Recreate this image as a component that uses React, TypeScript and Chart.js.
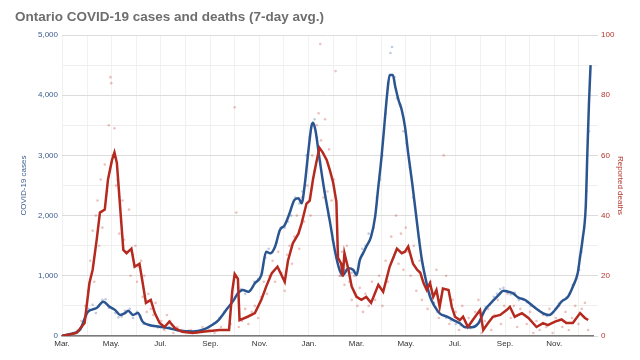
import { useEffect, useRef } from 'react';
import { Chart, registerables } from 'chart.js';

Chart.register(...registerables);

const TITLE = 'Ontario COVID-19 cases and deaths (7-day avg.)';
const LEFT_TITLE = 'COVID-19 cases';
const RIGHT_TITLE = 'Reported deaths';

const tickDates = [
  '2020-03-01', '2020-04-01', '2020-05-01', '2020-06-01', '2020-07-01', '2020-08-01',
  '2020-09-01', '2020-10-01', '2020-11-01', '2020-12-01', '2021-01-01', '2021-02-01',
  '2021-03-01', '2021-04-01', '2021-05-01', '2021-06-01', '2021-07-01', '2021-08-01',
  '2021-09-01', '2021-10-01', '2021-11-01', '2021-12-01',
];
const tickLabels = [
  'Mar.', '', 'May.', '', 'Jul.', '', 'Sep.', '', 'Nov.', '', 'Jan.', '',
  'Mar.', '', 'May.', '', 'Jul.', '', 'Sep.', '', 'Nov.', '',
];

// 7-day average of cases
const casesAvg: [string, number][] = [
  ['2020-03-01', 5], ['2020-03-10', 30], ['2020-03-23', 100], ['2020-04-02', 400], ['2020-04-13', 465],
  ['2020-04-21', 570], ['2020-04-29', 487], ['2020-05-06', 430], ['2020-05-12', 350], ['2020-05-18', 380],
  ['2020-05-22', 420], ['2020-05-28', 350], ['2020-06-03', 380], ['2020-06-09', 237], ['2020-06-17', 183],
  ['2020-06-30', 155], ['2020-07-12', 128], ['2020-07-25', 88], ['2020-08-10', 75], ['2020-08-22', 100],
  ['2020-09-05', 200], ['2020-09-11', 265], ['2020-09-22', 460], ['2020-09-30', 600], ['2020-10-05', 710],
  ['2020-10-11', 765], ['2020-10-18', 735], ['2020-10-26', 875], ['2020-11-03', 1013], ['2020-11-09', 1400],
  ['2020-11-14', 1373], ['2020-11-20', 1483], ['2020-11-26', 1760], ['2020-12-02', 1843], ['2020-12-08', 2038],
  ['2020-12-14', 2260], ['2020-12-19', 2287], ['2020-12-23', 2204], ['2020-12-27', 2536], ['2020-12-31', 3035],
  ['2021-01-04', 3477], ['2021-01-06', 3543], ['2021-01-09', 3422], ['2021-01-14', 2952], ['2021-01-20', 2425],
  ['2021-01-27', 1900], ['2021-02-02', 1428], ['2021-02-08', 1096], ['2021-02-12', 1013], ['2021-02-19', 1124],
  ['2021-02-25', 1096], ['2021-03-01', 1013], ['2021-03-05', 1262], ['2021-03-09', 1373], ['2021-03-13', 1483],
  ['2021-03-19', 1650], ['2021-03-24', 1980], ['2021-03-28', 2480], ['2021-04-01', 2978], ['2021-04-05', 3588],
  ['2021-04-08', 4031], ['2021-04-11', 4335], ['2021-04-15', 4335], ['2021-04-18', 4140], ['2021-04-22', 3920],
  ['2021-04-26', 3754], ['2021-04-30', 3477], ['2021-05-04', 3035], ['2021-05-09', 2536], ['2021-05-13', 2093],
  ['2021-05-17', 1650], ['2021-05-21', 1262], ['2021-05-25', 985], ['2021-05-31', 653], ['2021-06-06', 487],
  ['2021-06-12', 377], ['2021-06-21', 320], ['2021-06-29', 265], ['2021-07-07', 211], ['2021-07-14', 144],
  ['2021-07-22', 144], ['2021-07-30', 211], ['2021-08-07', 432], ['2021-08-16', 570], ['2021-08-24', 680],
  ['2021-08-30', 752], ['2021-09-05', 735], ['2021-09-11', 709], ['2021-09-17', 642], ['2021-09-26', 598],
  ['2021-10-04', 515], ['2021-10-12', 432], ['2021-10-20', 365], ['2021-10-26', 349], ['2021-11-02', 432],
  ['2021-11-10', 570], ['2021-11-18', 653], ['2021-11-24', 819], ['2021-11-30', 1041], ['2021-12-03', 1317],
  ['2021-12-06', 1595], ['2021-12-10', 2148], ['2021-12-12', 3035], ['2021-12-14', 3865], ['2021-12-16', 4500],
];

// 7-day average of reported deaths
const deathsAvg: [string, number][] = [
  ['2020-03-01', 0], ['2020-03-19', 1], ['2020-03-29', 4.3], ['2020-04-04', 17.6], ['2020-04-08', 22],
  ['2020-04-13', 32], ['2020-04-17', 41], ['2020-04-23', 42], ['2020-04-27', 52], ['2020-05-02', 58.5],
  ['2020-05-05', 61], ['2020-05-08', 57.5], ['2020-05-12', 43], ['2020-05-16', 28.6], ['2020-05-20', 27.5],
  ['2020-05-26', 29], ['2020-05-30', 23], ['2020-06-05', 24], ['2020-06-09', 17.6], ['2020-06-13', 11],
  ['2020-06-19', 12], ['2020-06-24', 7.6], ['2020-06-30', 4.3], ['2020-07-06', 3], ['2020-07-12', 4.8],
  ['2020-07-19', 2.6], ['2020-07-28', 1.4], ['2020-08-10', 1], ['2020-08-25', 1.5], ['2020-09-12', 2],
  ['2020-09-24', 2], ['2020-09-28', 15], ['2020-10-01', 20.6], ['2020-10-05', 19], ['2020-10-07', 5.3],
  ['2020-10-17', 6.4], ['2020-10-26', 7.6], ['2020-11-03', 12], ['2020-11-09', 16.4], ['2020-11-16', 20.9],
  ['2020-11-23', 23], ['2020-12-02', 18], ['2020-12-06', 25], ['2020-12-12', 30.8], ['2020-12-19', 34],
  ['2020-12-23', 37.5], ['2020-12-29', 44], ['2021-01-02', 45], ['2021-01-06', 52], ['2021-01-10', 57.5],
  ['2021-01-14', 62.5], ['2021-01-18', 61], ['2021-01-23', 58.5], ['2021-01-27', 55], ['2021-01-31', 51],
  ['2021-02-04', 44.6], ['2021-02-06', 26], ['2021-02-10', 24], ['2021-02-12', 19.7], ['2021-02-14', 27.5],
  ['2021-02-19', 22], ['2021-02-23', 16.4], ['2021-03-01', 13], ['2021-03-07', 12], ['2021-03-13', 13],
  ['2021-03-19', 11], ['2021-03-28', 17], ['2021-04-03', 14.7], ['2021-04-11', 23], ['2021-04-20', 29],
  ['2021-04-26', 27.5], ['2021-04-30', 28], ['2021-05-04', 29.7], ['2021-05-10', 24], ['2021-05-15', 22],
  ['2021-05-19', 21], ['2021-05-23', 17.6], ['2021-05-27', 15.3], ['2021-05-31', 17.6], ['2021-06-04', 13],
  ['2021-06-08', 15.3], ['2021-06-12', 9.7], ['2021-06-16', 15.8], ['2021-06-23', 15.3], ['2021-06-27', 9.7],
  ['2021-07-01', 6.4], ['2021-07-07', 5.3], ['2021-07-11', 6.4], ['2021-07-17', 3], ['2021-07-23', 5.3],
  ['2021-08-01', 8.6], ['2021-08-05', 2], ['2021-08-11', 4.3], ['2021-08-17', 6.4], ['2021-08-26', 7],
  ['2021-09-03', 8.6], ['2021-09-07', 9.7], ['2021-09-13', 6.4], ['2021-09-22', 7.6], ['2021-09-30', 6],
  ['2021-10-10', 3], ['2021-10-18', 4.3], ['2021-10-24', 3.6], ['2021-11-02', 4.8], ['2021-11-10', 5.5],
  ['2021-11-16', 4.3], ['2021-11-24', 4.3], ['2021-12-03', 7.6], ['2021-12-09', 6], ['2021-12-13', 5.3],
];

// daily reported cases (dots)
const casesDaily: [string, number][] = [
  ['2020-03-20', 90], ['2020-03-28', 250], ['2020-04-03', 450], ['2020-04-08', 520], ['2020-04-12', 380],
  ['2020-04-16', 500], ['2020-04-20', 600], ['2020-04-24', 610], ['2020-04-28', 470], ['2020-05-02', 460],
  ['2020-05-06', 380], ['2020-05-10', 310], ['2020-05-14', 320], ['2020-05-18', 420], ['2020-05-24', 450],
  ['2020-05-28', 300], ['2020-06-02', 400], ['2020-06-06', 330], ['2020-06-10', 200], ['2020-06-16', 190],
  ['2020-06-22', 170], ['2020-06-28', 140], ['2020-07-05', 120], ['2020-07-12', 150], ['2020-07-20', 110],
  ['2020-07-28', 80], ['2020-08-05', 90], ['2020-08-14', 70], ['2020-08-22', 110], ['2020-08-30', 150],
  ['2020-09-05', 210], ['2020-09-12', 300], ['2020-09-18', 400], ['2020-09-25', 500], ['2020-10-01', 640],
  ['2020-10-05', 800], ['2020-10-09', 780], ['2020-10-14', 700], ['2020-10-20', 760], ['2020-10-25', 900],
  ['2020-10-30', 950], ['2020-11-04', 1050], ['2020-11-08', 1300], ['2020-11-12', 1450], ['2020-11-17', 1400],
  ['2020-11-22', 1550], ['2020-11-27', 1800], ['2020-12-02', 1800], ['2020-12-06', 1900], ['2020-12-10', 2000],
  ['2020-12-15', 2300], ['2020-12-20', 2200], ['2020-12-24', 2400], ['2020-12-29', 3000], ['2021-01-02', 3300],
  ['2021-01-05', 3500], ['2021-01-08', 3600], ['2021-01-11', 3300], ['2021-01-15', 2900], ['2021-01-20', 2400],
  ['2021-01-25', 2000], ['2021-01-30', 1600], ['2021-02-04', 1300], ['2021-02-09', 1000], ['2021-02-14', 1100],
  ['2021-02-18', 1150], ['2021-02-23', 1050], ['2021-02-28', 1000], ['2021-03-04', 1200], ['2021-03-08', 1450],
  ['2021-03-12', 1500], ['2021-03-16', 1700], ['2021-03-22', 1800], ['2021-03-26', 2300], ['2021-03-30', 2600],
  ['2021-04-02', 3000], ['2021-04-06', 3700], ['2021-04-09', 4200], ['2021-04-12', 4700], ['2021-04-14', 4800],
  ['2021-04-17', 4300], ['2021-04-20', 3950], ['2021-04-24', 3850], ['2021-04-28', 3400], ['2021-05-02', 3200],
  ['2021-05-06', 2800], ['2021-05-10', 2300], ['2021-05-14', 2000], ['2021-05-18', 1600], ['2021-05-22', 1200],
  ['2021-05-26', 900], ['2021-06-01', 700], ['2021-06-05', 550], ['2021-06-09', 400], ['2021-06-15', 350],
  ['2021-06-20', 300], ['2021-06-26', 260], ['2021-07-02', 200], ['2021-07-08', 180], ['2021-07-14', 150],
  ['2021-07-20', 130], ['2021-07-26', 170], ['2021-08-02', 250], ['2021-08-08', 480], ['2021-08-13', 520],
  ['2021-08-18', 650], ['2021-08-22', 700], ['2021-08-26', 780], ['2021-08-30', 800], ['2021-09-03', 750],
  ['2021-09-08', 690], ['2021-09-13', 720], ['2021-09-18', 600], ['2021-09-23', 620], ['2021-09-28', 560],
  ['2021-10-03', 500], ['2021-10-08', 470], ['2021-10-13', 420], ['2021-10-18', 380], ['2021-10-23', 330],
  ['2021-10-28', 370], ['2021-11-02', 450], ['2021-11-07', 540], ['2021-11-12', 600], ['2021-11-16', 640],
  ['2021-11-20', 700], ['2021-11-24', 850], ['2021-11-28', 950], ['2021-12-02', 1100], ['2021-12-05', 1400],
  ['2021-12-08', 1800], ['2021-12-11', 2400], ['2021-12-14', 3400],
];

// daily reported deaths (dots)
const deathsDaily: [string, number][] = [
  ['2020-03-25', 5], ['2020-03-30', 10], ['2020-04-02', 15], ['2020-04-05', 25], ['2020-04-08', 35],
  ['2020-04-10', 18], ['2020-04-12', 40], ['2020-04-14', 45], ['2020-04-16', 30], ['2020-04-18', 52],
  ['2020-04-20', 36], ['2020-04-23', 57], ['2020-04-26', 48], ['2020-04-28', 70], ['2020-04-30', 86],
  ['2020-05-01', 84], ['2020-05-03', 60], ['2020-05-05', 69], ['2020-05-07', 50], ['2020-05-09', 52],
  ['2020-05-11', 34], ['2020-05-13', 38], ['2020-05-15', 45], ['2020-05-17', 32], ['2020-05-20', 28],
  ['2020-05-23', 42], ['2020-05-25', 20], ['2020-05-28', 27], ['2020-05-31', 30], ['2020-06-02', 18],
  ['2020-06-04', 23], ['2020-06-07', 25], ['2020-06-09', 13], ['2020-06-11', 20], ['2020-06-14', 8],
  ['2020-06-16', 14], ['2020-06-19', 9], ['2020-06-22', 7], ['2020-06-25', 11], ['2020-06-28', 3],
  ['2020-07-02', 5], ['2020-07-06', 2], ['2020-07-09', 7], ['2020-07-13', 5], ['2020-07-17', 1],
  ['2020-07-22', 3], ['2020-07-27', 2], ['2020-08-02', 0], ['2020-08-08', 2], ['2020-08-15', 1],
  ['2020-08-22', 3], ['2020-08-30', 2], ['2020-09-06', 1], ['2020-09-14', 3], ['2020-09-20', 0],
  ['2020-09-26', 4], ['2020-10-01', 76], ['2020-10-03', 41], ['2020-10-06', 3], ['2020-10-10', 5],
  ['2020-10-14', 9], ['2020-10-18', 4], ['2020-10-22', 8], ['2020-10-26', 10], ['2020-10-30', 6],
  ['2020-11-03', 13], ['2020-11-06', 18], ['2020-11-10', 14], ['2020-11-13', 20], ['2020-11-17', 25],
  ['2020-11-20', 18], ['2020-11-24', 28], ['2020-11-28', 21], ['2020-12-02', 15], ['2020-12-05', 27],
  ['2020-12-08', 30], ['2020-12-11', 24], ['2020-12-14', 33], ['2020-12-17', 40], ['2020-12-20', 29],
  ['2020-12-23', 46], ['2020-12-26', 38], ['2020-12-30', 50], ['2021-01-03', 40], ['2021-01-05', 60],
  ['2021-01-08', 55], ['2021-01-11', 70], ['2021-01-13', 74], ['2021-01-15', 97], ['2021-01-16', 65],
  ['2021-01-19', 46], ['2021-01-21', 72], ['2021-01-24', 48], ['2021-01-26', 62], ['2021-01-29', 45],
  ['2021-02-01', 52], ['2021-02-03', 88], ['2021-02-05', 30], ['2021-02-08', 20], ['2021-02-11', 28],
  ['2021-02-14', 17], ['2021-02-17', 30], ['2021-02-20', 18], ['2021-02-23', 12], ['2021-02-26', 20],
  ['2021-03-02', 10], ['2021-03-05', 16], ['2021-03-09', 8], ['2021-03-12', 14], ['2021-03-16', 10],
  ['2021-03-20', 18], ['2021-03-24', 12], ['2021-03-29', 20], ['2021-04-02', 10], ['2021-04-06', 25],
  ['2021-04-09', 18], ['2021-04-13', 33], ['2021-04-16', 26], ['2021-04-19', 40], ['2021-04-22', 24],
  ['2021-04-25', 34], ['2021-04-28', 22], ['2021-05-01', 36], ['2021-05-04', 28], ['2021-05-07', 20],
  ['2021-05-11', 30], ['2021-05-14', 15], ['2021-05-18', 25], ['2021-05-21', 12], ['2021-05-25', 20],
  ['2021-05-28', 9], ['2021-06-01', 18], ['2021-06-04', 11], ['2021-06-08', 22], ['2021-06-11', 6],
  ['2021-06-14', 13], ['2021-06-17', 60], ['2021-06-20', 20], ['2021-06-24', 4], ['2021-06-28', 12],
  ['2021-07-02', 8], ['2021-07-06', 2], ['2021-07-10', 10], ['2021-07-14', 3], ['2021-07-18', 6],
  ['2021-07-22', 0], ['2021-07-26', 8], ['2021-07-30', 12], ['2021-08-03', 1], ['2021-08-07', 5],
  ['2021-08-11', 9], ['2021-08-15', 2], ['2021-08-19', 7], ['2021-08-23', 12], ['2021-08-27', 4],
  ['2021-08-31', 10], ['2021-09-04', 14], ['2021-09-08', 6], ['2021-09-12', 10], ['2021-09-16', 3],
  ['2021-09-20', 9], ['2021-09-24', 12], ['2021-09-28', 4], ['2021-10-02', 8], ['2021-10-06', 1],
  ['2021-10-10', 5], ['2021-10-14', 2], ['2021-10-18', 7], ['2021-10-22', 3], ['2021-10-26', 9],
  ['2021-10-30', 1], ['2021-11-03', 6], ['2021-11-07', 10], ['2021-11-11', 3], ['2021-11-15', 8],
  ['2021-11-19', 2], ['2021-11-23', 6], ['2021-11-27', 10], ['2021-12-01', 4], ['2021-12-05', 9],
  ['2021-12-09', 11], ['2021-12-13', 2],
];

const START = Date.UTC(2020, 2, 1);
const dayIndex = (s: string) => {
  const [y, m, d] = s.split('-').map(Number);
  return Math.round((Date.UTC(y, m - 1, d) - START) / 86400000);
};
const toPoints = (rows: [string, number][]) => rows.map(([d, v]) => ({ x: dayIndex(d), y: v }));
const tickDays = tickDates.map(dayIndex);

const BLUE = '#2b5591';
const RED = '#b5291f';
const FONT = '"Liberation Sans", Arial, Helvetica, sans-serif';

const titlePlugin = {
  id: 'customTitle',
  beforeDraw(chart: any) {
    const { ctx, width, height } = chart;
    ctx.save();
    ctx.fillStyle = '#ffffff';
    ctx.fillRect(0, 0, width, height);
    ctx.fillStyle = '#6e6e6e';
    ctx.font = `bold 13.5px ${FONT}`;
    ctx.textBaseline = 'alphabetic';
    ctx.textAlign = 'left';
    ctx.fillText(TITLE, 15, 21);
    ctx.restore();
  },
};

export default function App() {
  const ref = useRef<HTMLCanvasElement | null>(null);

  useEffect(() => {
    document.body.style.margin = '0';
    if (!ref.current) return;
    Chart.defaults.font.family = FONT;
    const chart = new Chart(ref.current, {
      type: 'line',
      data: {
        datasets: [
          {
            type: 'scatter',
            label: 'Daily cases',
            data: toPoints(casesDaily),
            yAxisID: 'y',
            pointRadius: 1.3,
            pointBorderWidth: 0,
            pointBackgroundColor: 'rgba(70,110,170,0.35)',
            order: 4,
          },
          {
            type: 'scatter',
            label: 'Daily deaths',
            data: toPoints(deathsDaily),
            yAxisID: 'y1',
            pointRadius: 1.3,
            pointBorderWidth: 0,
            pointBackgroundColor: 'rgba(200,80,70,0.35)',
            order: 3,
          },
          {
            label: 'Cases (7-day avg.)',
            data: toPoints(casesAvg),
            yAxisID: 'y',
            borderColor: BLUE,
            borderWidth: 2.5,
            pointRadius: 0,
            cubicInterpolationMode: 'monotone',
            order: 2,
          },
          {
            label: 'Deaths (7-day avg.)',
            data: toPoints(deathsAvg),
            yAxisID: 'y1',
            borderColor: RED,
            borderWidth: 2.5,
            pointRadius: 0,
            tension: 0,
            order: 1,
          },
        ],
      },
      options: {
        responsive: false,
        animation: false,
        layout: { padding: { top: 35, bottom: 0, left: 0, right: 0 } },
        plugins: {
          legend: { display: false },
          title: { display: false },
          tooltip: { enabled: false },
        },
        scales: {
          x: {
            type: 'linear',
            min: 0,
            max: 658,
            afterBuildTicks: (scale: any) => {
              scale.ticks = tickDays.map((v) => ({ value: v }));
            },
            afterFit: (scale: any) => {
              scale.height = 24;
            },
            ticks: {
              autoSkip: false,
              maxRotation: 0,
              padding: 3,
              color: '#333333',
              font: { size: 8 },
              callback: (value: any) => {
                const i = tickDays.indexOf(Number(value));
                return i >= 0 ? tickLabels[i] : '';
              },
            },
            grid: { color: '#f1f1f1', drawTicks: false, lineWidth: 1 },
            border: { display: true, color: '#7a7a7a', width: 1.5 },
          },
          y: {
            position: 'left',
            min: 0,
            max: 5000,
            afterFit: (scale: any) => {
              scale.width = 62;
            },
            ticks: {
              stepSize: 500,
              padding: 4,
              color: '#3d5d8f',
              font: { size: 8 },
              callback: (v: any) => (Number(v) % 1000 === 0 ? Number(v).toLocaleString('en-US') : ''),
            },
            grid: {
              drawTicks: false,
              color: (ctx: any) => (ctx.tick && ctx.tick.value % 1000 === 0 ? '#dcdcdc' : '#eeeeee'),
            },
            border: { display: false },
            title: {
              display: true,
              text: LEFT_TITLE,
              color: '#3d5d8f',
              font: { size: 8 },
              padding: { top: 19, bottom: 0 },
            },
          },
          y1: {
            position: 'right',
            min: 0,
            max: 100,
            afterFit: (scale: any) => {
              scale.width = 47;
            },
            ticks: {
              stepSize: 10,
              padding: 3,
              color: '#b2352c',
              font: { size: 8 },
              callback: (v: any) => (Number(v) % 20 === 0 ? String(v) : ''),
            },
            grid: {
              drawOnChartArea: false,
              drawTicks: true,
              tickLength: 5,
              color: (ctx: any) => (ctx.tick && ctx.tick.value % 20 === 0 ? '#dcdcdc' : '#eeeeee'),
            },
            border: { display: false },
            title: {
              display: true,
              text: RIGHT_TITLE,
              color: '#b2352c',
              font: { size: 8 },
              padding: { top: 15, bottom: 0 },
            },
          },
        },
      },
      plugins: [titlePlugin],
    });
    return () => chart.destroy();
  }, []);

  return (
    <div style={{ width: 640, height: 360 }}>
      <canvas ref={ref} width={640} height={360} />
    </div>
  );
}
